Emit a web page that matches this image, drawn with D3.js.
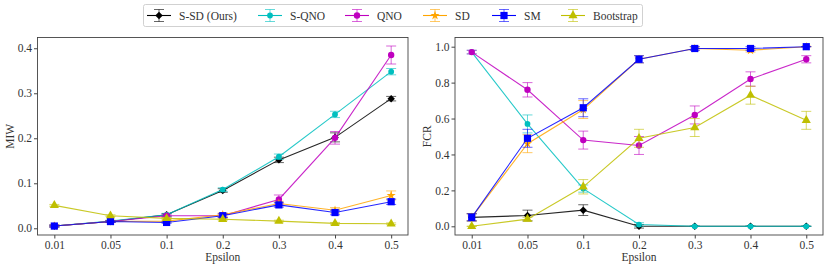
<!DOCTYPE html>
<html>
<head>
<meta charset="utf-8">
<script src="https://cdn.jsdelivr.net/npm/d3@7.9.0/dist/d3.min.js"></script>
<style>
  body { margin: 0; background: #fff; }
  text { font-family: 'Liberation Serif', serif; }
</style>
</head>
<body>
<svg id="chart" width="830" height="269" font-family="Liberation Serif"></svg>
<script>
const epsilons = ['0.01', '0.05', '0.1', '0.2', '0.3', '0.4', '0.5'];

const methods = ['S-SD (Ours)', 'S-QNO', 'QNO', 'SD', 'SM', 'Bootstrap'];

// MIW (left panel), mean and error half-width
const miwSSD   = [0.005, 0.015, 0.030, 0.084, 0.152, 0.202, 0.288];
const miwSQNO  = [0.005, 0.016, 0.030, 0.086, 0.159, 0.253, 0.348];
const miwQNO   = [0.005, 0.015, 0.028, 0.028, 0.064, 0.201, 0.385];
const miwSD    = [0.005, 0.015, 0.016, 0.030, 0.055, 0.040, 0.073];
const miwSM    = [0.005, 0.015, 0.013, 0.028, 0.052, 0.035, 0.059];
const miwBoot  = [0.051, 0.028, 0.022, 0.020, 0.016, 0.011, 0.010];

const miwErrSSD  = [0.002, 0.002, 0.003, 0.004, 0.006, 0.010, 0.005];
const miwErrSQNO = [0.002, 0.002, 0.003, 0.004, 0.006, 0.007, 0.007];
const miwErrQNO  = [0.002, 0.002, 0.003, 0.004, 0.010, 0.014, 0.020];
const miwErrSD   = [0.002, 0.002, 0.002, 0.004, 0.005, 0.006, 0.010];
const miwErrSM   = [0.002, 0.002, 0.002, 0.004, 0.005, 0.005, 0.006];
const miwErrBoot = [0.002, 0.002, 0.002, 0.002, 0.002, 0.002, 0.002];

// FCR (right panel)
const fcrSSD   = [0.05, 0.06, 0.09, 0.00, 0.00, 0.00, 0.00];
const fcrSQNO  = [0.97, 0.57, 0.21, 0.01, 0.00, 0.00, 0.00];
const fcrQNO   = [0.97, 0.76, 0.48, 0.45, 0.62, 0.82, 0.93];
const fcrSD    = [0.05, 0.46, 0.65, 0.93, 0.99, 0.98, 1.00];
const fcrSM    = [0.05, 0.49, 0.66, 0.93, 0.99, 0.99, 1.00];
const fcrBoot  = [0.00, 0.04, 0.22, 0.49, 0.55, 0.73, 0.59];

const fcrErrSSD  = [0.02, 0.03, 0.03, 0.01, 0.00, 0.00, 0.00];
const fcrErrSQNO = [0.01, 0.05, 0.02, 0.01, 0.00, 0.00, 0.00];
const fcrErrQNO  = [0.01, 0.04, 0.05, 0.05, 0.05, 0.04, 0.02];
const fcrErrSD   = [0.02, 0.05, 0.05, 0.02, 0.01, 0.01, 0.00];
const fcrErrSM   = [0.02, 0.05, 0.05, 0.02, 0.01, 0.01, 0.00];
const fcrErrBoot = [0.00, 0.01, 0.04, 0.05, 0.05, 0.05, 0.05];

const miwTicks = [0, 0.1, 0.2, 0.3, 0.4];
const fcrTicks = [0, 0.2, 0.4, 0.6, 0.8, 1.0];

const styles = [
  { color: '#000000', symbol: d3.symbolSquare,  size: 28, rot: 45 },
  { color: '#00bfbf', symbol: d3.symbolCircle,  size: 26 },
  { color: '#bf00bf', symbol: d3.symbolCircle,  size: 32 },
  { color: '#ffa500', symbol: d3.symbolStar,    size: 26 },
  { color: '#0000ff', symbol: d3.symbolSquare,  size: 52 },
  { color: '#bfbf00', symbol: d3.symbolTriangle, size: 36 },
];

const FONT = "'Liberation Serif', serif";
const svg = d3.select('#chart');

function panel(opts) {
  const { left, right, top, bottom, yDomain, yTicks, yLabel, values, errs } = opts;

  const x = d3.scaleLinear().domain([-0.3, epsilons.length - 0.7]).range([left, right]);
  const y = d3.scaleLinear().domain(yDomain).range([bottom, top]);

  const g = svg.append('g');

  // series: lines, error bars, markers (later series drawn on top)
  values.forEach((vals, s) => {
    const st = styles[s];
    const pts = vals.map((v, i) => ({ i, v, e: errs[s][i] }));
    const sg = g.append('g');

    sg.append('path')
      .datum(pts)
      .attr('fill', 'none')
      .attr('stroke', st.color)
      .attr('stroke-opacity', 0.85)
      .attr('stroke-width', 1.1)
      .attr('d', d3.line().x(d => x(d.i)).y(d => y(d.v)));

    const eb = sg.selectAll('.eb').data(pts).join('g')
      .attr('stroke', st.color)
      .attr('stroke-opacity', 0.6)
      .attr('stroke-width', 1);
    eb.append('line')
      .attr('x1', d => x(d.i)).attr('x2', d => x(d.i))
      .attr('y1', d => y(d.v - d.e)).attr('y2', d => y(d.v + d.e));
    eb.append('line')
      .attr('x1', d => x(d.i) - 5).attr('x2', d => x(d.i) + 5)
      .attr('y1', d => y(d.v - d.e)).attr('y2', d => y(d.v - d.e));
    eb.append('line')
      .attr('x1', d => x(d.i) - 5).attr('x2', d => x(d.i) + 5)
      .attr('y1', d => y(d.v + d.e)).attr('y2', d => y(d.v + d.e));

    sg.selectAll('.mk').data(pts).join('path')
      .attr('transform', d => `translate(${x(d.i)},${y(d.v)}) rotate(${st.rot || 0})`)
      .attr('d', d3.symbol().type(st.symbol).size(st.size))
      .attr('fill', st.color);
  });

  // frame
  g.append('rect')
    .attr('x', left).attr('y', top)
    .attr('width', right - left).attr('height', bottom - top)
    .attr('fill', 'none').attr('stroke', '#444').attr('stroke-width', 0.9);

  // axes
  const xAxis = g.append('g').attr('transform', `translate(0,${bottom})`)
    .call(d3.axisBottom(x).tickValues(d3.range(epsilons.length)).tickFormat(i => epsilons[i]).tickSize(3.5).tickPadding(2.5));
  const yAxis = g.append('g').attr('transform', `translate(${left},0)`)
    .call(d3.axisLeft(y).tickValues(yTicks).tickFormat(d3.format('.1f')).tickSize(3.5).tickPadding(2));
  [xAxis, yAxis].forEach(a => {
    a.attr('font-family', null).attr('font-size', null);
    a.select('.domain').remove();
    a.selectAll('line').attr('stroke', '#444');
    a.selectAll('text').attr('fill', '#333').style('font-size', '11.5px').style('font-family', FONT);
  });

  g.append('text')
    .attr('x', (left + right) / 2).attr('y', 261)
    .attr('text-anchor', 'middle')
    .style('font-size', '11.5px').style('font-family', FONT).attr('fill', '#333')
    .text('Epsilon');

  g.append('text')
    .attr('transform', `translate(${left - 24},${(top + bottom) / 2}) rotate(-90)`)
    .attr('text-anchor', 'middle')
    .style('font-size', '11.5px').style('font-family', FONT).attr('fill', '#333')
    .text(yLabel);
}

panel({
  left: 37.5, right: 408, top: 37.5, bottom: 235,
  yDomain: [-0.0149, 0.4239], yTicks: miwTicks, yLabel: 'MIW',
  values: [miwSSD, miwSQNO, miwQNO, miwSD, miwSM, miwBoot],
  errs: [miwErrSSD, miwErrSQNO, miwErrQNO, miwErrSD, miwErrSM, miwErrBoot],
});

panel({
  left: 455, right: 823, top: 37.5, bottom: 235,
  yDomain: [-0.0484, 1.0512], yTicks: fcrTicks, yLabel: 'FCR',
  values: [fcrSSD, fcrSQNO, fcrQNO, fcrSD, fcrSM, fcrBoot],
  errs: [fcrErrSSD, fcrErrSQNO, fcrErrQNO, fcrErrSD, fcrErrSM, fcrErrBoot],
});

// legend
const legendX = [147, 258, 345, 423, 492, 561];
const lg = svg.append('g');
lg.append('rect')
  .attr('x', 143.5).attr('y', 4.5).attr('width', 499).attr('height', 22)
  .attr('rx', 2).attr('fill', '#fff').attr('stroke', '#ccc').attr('stroke-width', 0.9);
methods.forEach((m, s) => {
  const st = styles[s];
  const item = lg.append('g').attr('transform', `translate(${legendX[s]},15.5)`);
  item.append('line').attr('x1', 0).attr('x2', 24).attr('stroke', st.color).attr('stroke-width', 1.1);
  item.append('line').attr('x1', 12).attr('x2', 12).attr('y1', -6).attr('y2', 6).attr('stroke', st.color).attr('stroke-opacity', 0.6);
  item.append('line').attr('x1', 7).attr('x2', 17).attr('y1', -6).attr('y2', -6).attr('stroke', st.color).attr('stroke-opacity', 0.6);
  item.append('line').attr('x1', 7).attr('x2', 17).attr('y1', 6).attr('y2', 6).attr('stroke', st.color).attr('stroke-opacity', 0.6);
  item.append('path')
    .attr('transform', `translate(12,0) rotate(${st.rot || 0})`)
    .attr('d', d3.symbol().type(st.symbol).size(st.size)).attr('fill', st.color);
  item.append('text').attr('x', 32).attr('dy', '0.35em')
    .style('font-size', '11.5px').style('font-family', FONT).attr('fill', '#333').text(m);
});
</script>
</body>
</html>
